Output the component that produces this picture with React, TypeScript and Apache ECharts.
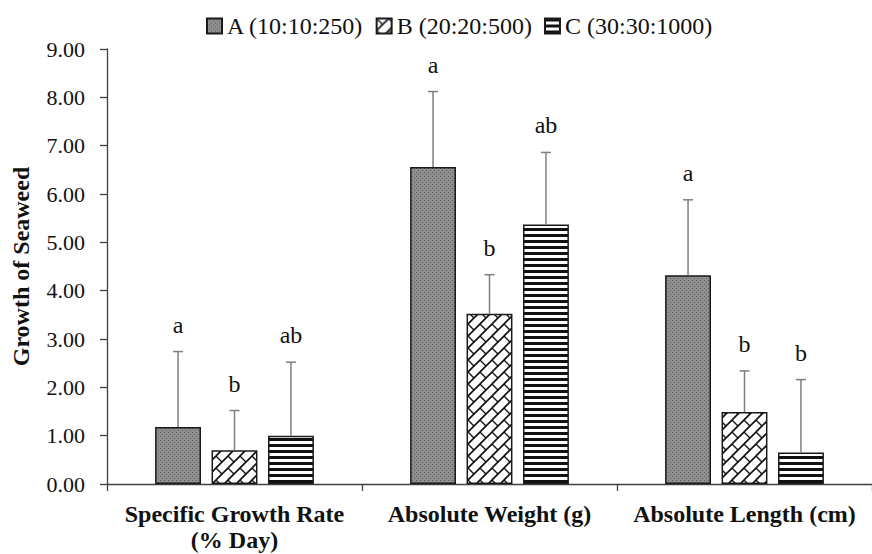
import React, { useEffect, useRef } from 'react';
import * as echarts from 'echarts';

const categories = ['Specific Growth Rate\n(% Day)', 'Absolute Weight (g)', 'Absolute Length (cm)'];
const seriesNames = ['A (10:10:250)', 'B (20:20:500)', 'C (30:30:1000)'];
const meanA = [1.18, 6.56, 4.32];
const meanB = [0.70, 3.52, 1.49];
const meanC = [1.00, 5.37, 0.65];
const sdA = [1.56, 1.56, 1.56];
const sdB = [0.82, 0.81, 0.85];
const sdC = [1.52, 1.49, 1.51];
const lettersA = ['a', 'a', 'a'];
const lettersB = ['b', 'b', 'b'];
const lettersC = ['ab', 'ab', 'b'];
const yTicks = [0, 1, 2, 3, 4, 5, 6, 7, 8, 9];

const SERIF = "'Liberation Serif', 'Times New Roman', serif";

function makePattern(kind: string): any {
  const c = document.createElement('canvas');
  let w = 4, h = 4;
  if (kind === 'B') { w = 12; h = 12; }
  if (kind === 'C') { w = 6; h = 6; }
  c.width = w; c.height = h;
  const ctx = c.getContext('2d')!;
  if (kind === 'A') {
    ctx.fillStyle = '#8f8f8f';
    ctx.fillRect(0, 0, w, h);
    ctx.fillStyle = '#5e5e5e';
    ctx.fillRect(0, 0, 1, 1);
    ctx.fillRect(2, 2, 1, 1);
  } else if (kind === 'B') {
    ctx.fillStyle = '#ffffff';
    ctx.fillRect(0, 0, w, h);
    ctx.strokeStyle = '#111';
    ctx.lineWidth = 1.3;
    for (let i = -2; i <= 2; i++) {
      for (let j = -2; j <= 2; j++) {
        const ox = i * w, oy = j * h;
        ctx.beginPath();
        ctx.moveTo(ox - w, oy + h);
        ctx.lineTo(ox + w, oy - h);
        ctx.stroke();
        ctx.beginPath();
        ctx.moveTo(ox, oy);
        ctx.lineTo(ox + w / 2, oy + h / 2);
        ctx.stroke();
      }
    }
  } else {
    ctx.fillStyle = '#ffffff';
    ctx.fillRect(0, 0, w, h);
    ctx.fillStyle = '#111';
    ctx.fillRect(0, 0, w, 3);
  }
  return { image: c, repeat: 'repeat', imageWidth: w, imageHeight: h };
}

export default function App() {
  const ref = useRef<HTMLDivElement>(null);
  useEffect(() => {
    if (!ref.current) return;
    const chart = echarts.init(ref.current, null, { renderer: 'svg' });
    const means = [meanA, meanB, meanC];
    const sds = [sdA, sdB, sdC];
    const letters = [lettersA, lettersB, lettersC];
    const patterns = [makePattern('A'), makePattern('B'), makePattern('C')];
    const BAR_FR = 0.18;
    const GAP_FR = 0.23;

    const barSeries = seriesNames.map((name, s) => ({
      name,
      type: 'bar',
      barWidth: BAR_FR * 100 + '%',
      barGap: GAP_FR * 100 + '%',
      data: means[s],
      itemStyle: { color: patterns[s], borderColor: '#1a1a1a', borderWidth: 1.5 },
      z: 2,
    }));

    const errSeries = seriesNames.map((name, s) => ({
      name: 'err' + s,
      type: 'custom',
      z: 3,
      data: means[s].map((m, i) => [i, m, m + sds[s][i]]),
      renderItem: (params: any, api: any) => {
        const ci = api.value(0);
        const m = api.value(1);
        const hi = api.value(2);
        const band = api.size([1, 0])[0];
        const bw = band * BAR_FR;
        const off = (s - 1) * (bw + bw * GAP_FR);
        const p0 = api.coord([ci, m]);
        const p1 = api.coord([ci, hi]);
        const x = p0[0] + off;
        return {
          type: 'group',
          children: [
            { type: 'line', shape: { x1: x, y1: p0[1], x2: x, y2: p1[1] }, style: { stroke: '#7f7f7f', lineWidth: 1.5 } },
            { type: 'line', shape: { x1: x - 5, y1: p1[1], x2: x + 5, y2: p1[1] }, style: { stroke: '#7f7f7f', lineWidth: 1.5 } },
            {
              type: 'text',
              x: x,
              y: p1[1] - 27,
              style: {
                text: letters[s][params.dataIndex],
                fontFamily: SERIF,
                fontSize: 24,
                fill: '#111',
                align: 'center',
                verticalAlign: 'middle',
              },
            },
          ],
        };
      },
    }));

    chart.setOption({
      animation: false,
      backgroundColor: '#ffffff',
      legend: {
        data: seriesNames,
        left: 201,
        top: 9,
        itemWidth: 15,
        itemHeight: 15,
        itemGap: 12,
        icon: 'rect',
        textStyle: { fontFamily: SERIF, fontSize: 24, color: '#111' },
      },
      grid: { left: 107, right: -7, top: 49, bottom: 70, containLabel: false },
      xAxis: {
        type: 'category',
        data: categories,
        axisLine: { lineStyle: { color: '#404040', width: 1.3 } },
        axisTick: { show: true, length: 7, lineStyle: { color: '#404040', width: 1.3 } },
        axisLabel: {
          fontFamily: SERIF,
          fontSize: 24,
          fontWeight: 'bold',
          color: '#111',
          lineHeight: 26,
          margin: 17,
          interval: 0,
        },
      },
      yAxis: {
        type: 'value',
        min: yTicks[0],
        max: yTicks[yTicks.length - 1],
        interval: 1,
        name: 'Growth of Seaweed',
        nameLocation: 'middle',
        nameGap: 74,
        nameTextStyle: { fontFamily: SERIF, fontSize: 24, fontWeight: 'bold', color: '#111' },
        axisLine: { show: true, lineStyle: { color: '#404040', width: 1.3 } },
        axisTick: { show: true, length: 7, lineStyle: { color: '#404040', width: 1.3 } },
        splitLine: { show: false },
        axisLabel: {
          fontFamily: SERIF,
          fontSize: 22,
          color: '#111',
          margin: 22,
          formatter: (v: number) => v.toFixed(2),
        },
      },
      series: [...barSeries, ...errSeries],
    } as any);
    return () => chart.dispose();
  }, []);
  return <div ref={ref} style={{ position: 'fixed', left: 0, top: 0, width: 872, height: 554 }} />;
}
